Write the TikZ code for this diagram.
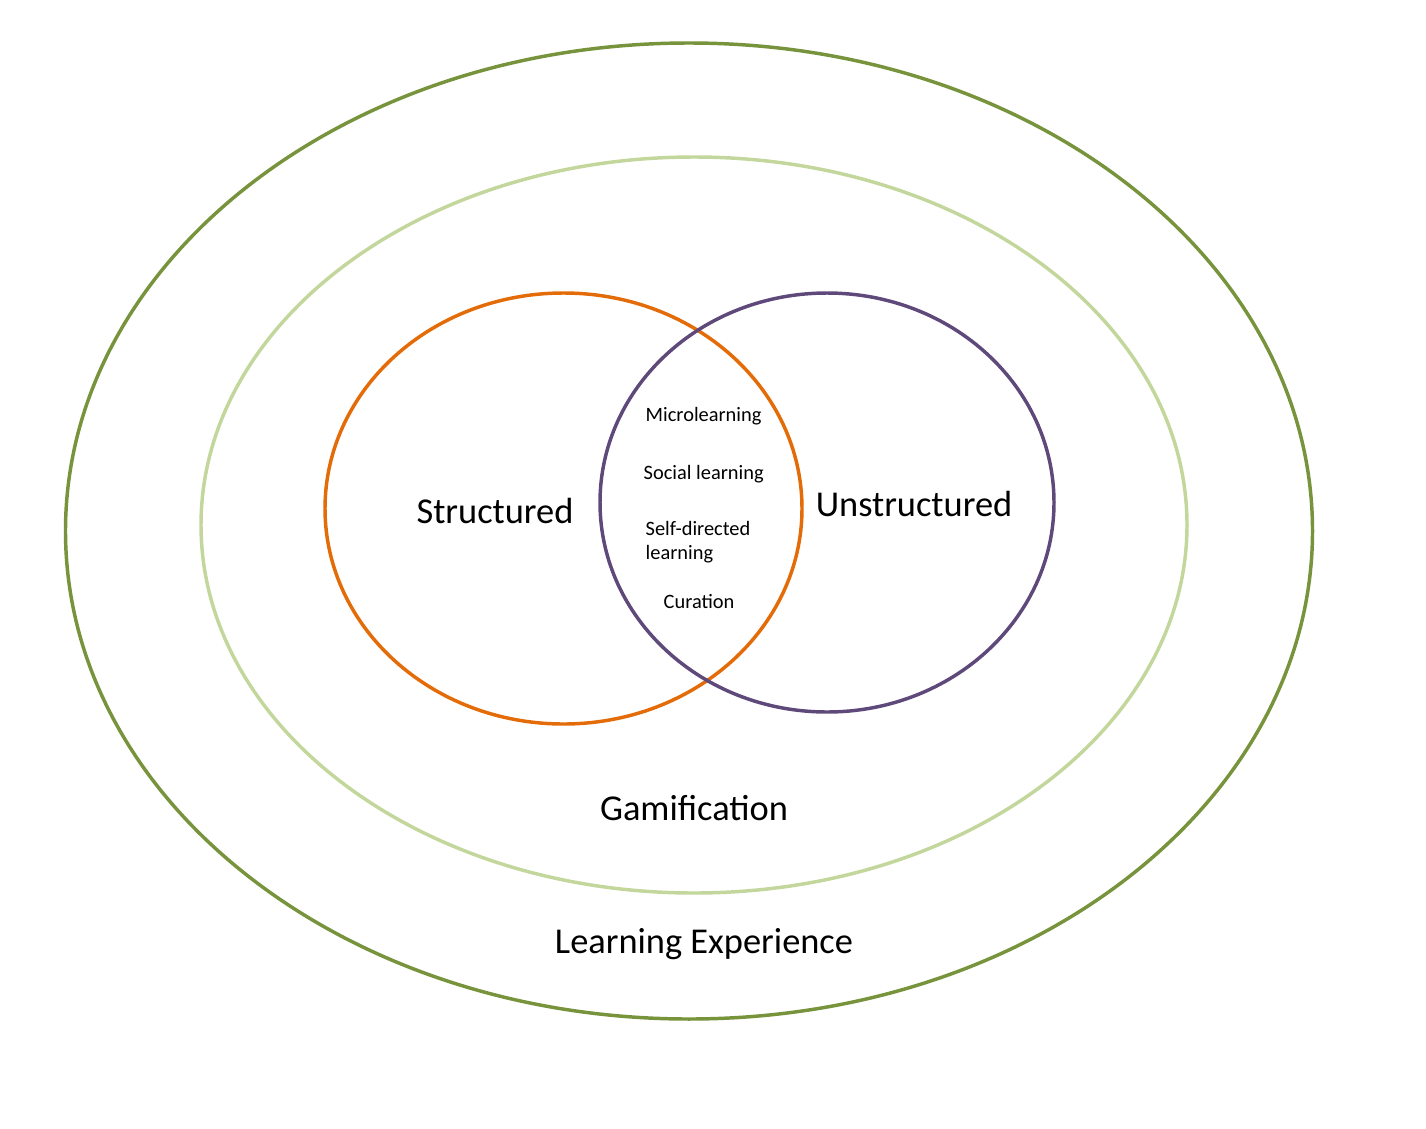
\documentclass[tikz,border=0pt]{standalone}
\usepackage{fontspec}
\setmainfont{Carlito}
\definecolor{outerg}{HTML}{77933C}
\definecolor{lightg}{HTML}{C3D69B}
\definecolor{orng}{HTML}{E36C09}
\definecolor{purp}{HTML}{5F497A}
\begin{document}
\begin{tikzpicture}[x=0.75pt,y=-0.75pt,
  ring/.style={line width=2.6pt},
  big/.style={font=\fontsize{27.3}{31}\selectfont},
  small/.style={font=\fontsize{15.3}{18}\selectfont,anchor=west,align=left}]
\useasboundingbox (0,0) rectangle (1426,1128);
\draw[ring,outerg] (689,531) ellipse [x radius=623.5,y radius=488];
\draw[ring,lightg] (694,525) ellipse [x radius=493,y radius=368];
\draw[ring,orng] (563.5,508.5) ellipse [x radius=238.5,y radius=215.5];
\draw[ring,purp] (827,502.5) ellipse [x radius=227,y radius=209.5];
\node[big] (s) at (495,511) {Structured};
\node[big] (u) at (914,504) {Unstructured};
\node[small] (m) at (641,416) {Microlearning};
\node[small] (so) at (639,474) {Social learning};
\node[small] (sd) at (641,542) {Self-directed\\learning};
\node[small] (c) at (659,602) {Curation};
\node[big] (g) at (694,808) {Gamification};
\node[big] (l) at (704,944) {Learning Experience};
\end{tikzpicture}
\end{document}
